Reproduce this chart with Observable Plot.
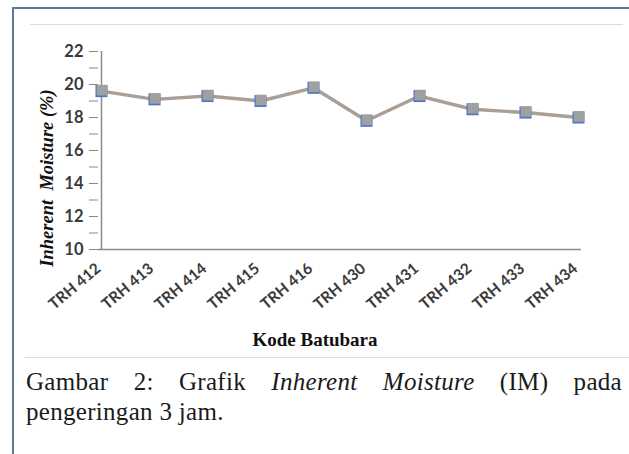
<!DOCTYPE html>
<html>
<head>
<meta charset="utf-8">
<script src="https://cdn.jsdelivr.net/npm/d3@7"></script>
<script src="https://cdn.jsdelivr.net/npm/@observablehq/plot@0.6"></script>
<style>
  html, body { margin: 0; padding: 0; background: #fff; width: 629px; height: 454px; overflow: hidden; }
  #wrap { position: relative; width: 629px; height: 454px; }
  .abs { position: absolute; }
  #chart { left: 0; top: 0; }
  #ylabel { font: italic bold 18.5px "Liberation Serif", serif; color: #111; white-space: nowrap;
            left: 47px; top: 178px; transform: translate(-50%, -50%) rotate(-90deg); }
  #xlabel { font: bold 19px "Liberation Serif", serif; color: #111; left: 315px; top: 329px; transform: translateX(-50%); white-space: nowrap; line-height: 22px; }
  .cap { font: 25px "Liberation Serif", serif; line-height: 29px; color: #1a1a1a; left: 26px; width: 596px; white-space: nowrap; letter-spacing: 0.3px; }
  #cap1 { top: 367px; text-align: justify; text-align-last: justify; white-space: normal; }
  #cap2 { top: 397px; }
</style>
</head>
<body>
<div id="wrap">
  <div class="abs" style="left:12px; top:7px; width:2px; height:447px; background:#5b7a99;"></div>
  <div class="abs" style="left:12px; top:7px; width:617px; height:2px; background:#5b7a99;"></div>
  <div class="abs" style="left:30px; top:24px; width:593px; height:1px; background:#dcdcdc;"></div>
  <div class="abs" style="left:25px; top:357px; width:604px; height:1px; background:#dcdcdc;"></div>
  <div id="chart" class="abs"></div>
  <div id="ylabel" class="abs">Inherent&nbsp; Moisture (%)</div>
  <div id="xlabel" class="abs">Kode Batubara</div>
  <div id="cap1" class="abs cap">Gambar 2: Grafik <i>Inherent Moisture</i> (IM) pada</div>
  <div id="cap2" class="abs cap">pengeringan 3 jam.</div>
</div>
<script>
const codes = ["TRH 412","TRH 413","TRH 414","TRH 415","TRH 416","TRH 430","TRH 431","TRH 432","TRH 433","TRH 434"];
const moisture = [19.6, 19.1, 19.3, 19.0, 19.8, 17.8, 19.3, 18.5, 18.3, 18.0];
const yTickLabels = [10, 12, 14, 16, 18, 20, 22];
const yMinorTicks = [10, 11, 12, 13, 14, 15, 16, 17, 18, 19, 20, 21, 22];

const data = codes.map((c, i) => ({code: c, im: moisture[i]}));

const chart = Plot.plot({
  width: 629,
  height: 330,
  marginLeft: 98,
  marginRight: 48,
  marginTop: 51,
  marginBottom: 81,
  style: { background: "transparent", fontFamily: "Lato, sans-serif", color: "#3a3a3a" },
  x: { type: "point", domain: codes, padding: 0 },
  y: { domain: [10, 22] },
  marks: [
    Plot.axisY({ ticks: yMinorTicks, tickSize: 9, tickFormat: () => "", stroke: "#8a8a8a", label: null }),
    Plot.axisY({ ticks: yTickLabels, tickSize: 0, tickPadding: 15, label: null }),
    Plot.axisX({ tickSize: 0, tickRotate: -40, tickPadding: 10, dx: -3, dy: 7, label: null }),
    Plot.ruleY([10], { stroke: "#8a8a8a", strokeWidth: 1.5 }),
    Plot.ruleX([codes[0]], { stroke: "#8a8a8a", strokeWidth: 1.5 }),
    Plot.line(data, { x: "code", y: "im", stroke: "#a99f97", strokeWidth: 3.4 }),
    Plot.dot(data, { x: "code", y: "im", symbol: "square", r: 6.8, fill: "#4a78c8", stroke: "none" }),
    Plot.dot(data, { x: "code", y: "im", symbol: "square", r: 6, dy: -1, dx: 0.5, fill: "#a0a0a0", stroke: "none" })
  ]
});
chart.querySelectorAll("text").forEach(t => {
  const s = t.textContent;
  if (!s) return;
  t.style.fontFamily = "Lato, sans-serif";
  t.style.fontWeight = "bold";
  t.style.fill = "#3a3a3a";
  t.style.fontSize = s.startsWith("TRH") ? "15.5px" : "16.5px";
});
document.getElementById("chart").appendChild(chart);
</script>
</body>
</html>
